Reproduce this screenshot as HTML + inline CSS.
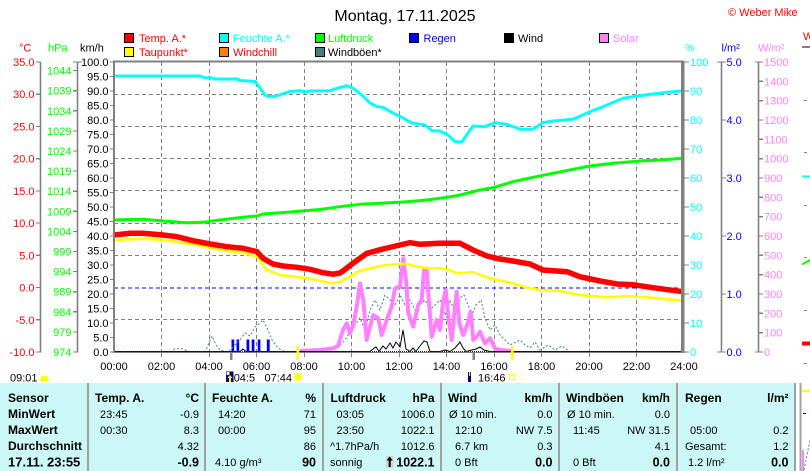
<!DOCTYPE html>
<html><head><meta charset="utf-8">
<style>
html,body{margin:0;padding:0;background:#fff;}
body{width:810px;height:471px;overflow:hidden;position:relative;}
svg{position:absolute;left:0;top:0;}
text{font-family:"Liberation Sans",sans-serif;}
</style></head>
<body>
<svg width="810" height="471" viewBox="0 0 810 471" xmlns="http://www.w3.org/2000/svg">
<rect x="0" y="0" width="810" height="471" fill="#fff"/>

<!-- Title -->
<text x="405" y="21" font-size="16" text-anchor="middle" fill="#000">Montag, 17.11.2025</text>
<text x="728" y="16" font-size="11" fill="#ff0000">© Weber Mike</text>

<!-- Legend -->
<g stroke="#000" stroke-width="1" shape-rendering="crispEdges">
<rect x="124.5" y="33.5" width="9" height="9" fill="#ff0000"/>
<rect x="219.5" y="33.5" width="9" height="9" fill="#00ffff"/>
<rect x="315.5" y="33.5" width="9" height="9" fill="#00ff00"/>
<rect x="409.5" y="33.5" width="9" height="9" fill="#0000ff"/>
<rect x="504.5" y="33.5" width="9" height="9" fill="#000000"/>
<rect x="599.5" y="33.5" width="9" height="9" fill="#ff80ff"/>
<rect x="124.5" y="47.5" width="9" height="9" fill="#ffff00"/>
<rect x="219.5" y="47.5" width="9" height="9" fill="#ff8000"/>
<rect x="315.5" y="47.5" width="9" height="9" fill="#408080"/>
</g>
<g font-size="11">
<text x="139" y="42" fill="#ff0000">Temp. A.*</text>
<text x="233" y="42" fill="#00ffff">Feuchte A.*</text>
<text x="328" y="42" fill="#00ff00">Luftdruck</text>
<text x="423.5" y="42" fill="#0000ff">Regen</text>
<text x="518" y="42" fill="#000">Wind</text>
<text x="613" y="42" fill="#ff80ff">Solar</text>
<text x="139" y="56" fill="#ff0000">Taupunkt*</text>
<text x="233" y="56" fill="#ff0000">Windchill</text>
<text x="328" y="56" fill="#000">Windböen*</text>
</g>

<!-- Axis titles -->
<g font-size="11">
<text x="19" y="51.5" fill="#ff0000">°C</text>
<text x="48" y="51.5" fill="#00ff00">hPa</text>
<text x="80" y="51.5" fill="#000">km/h</text>
<text x="685" y="51.5" fill="#00ffff">%</text>
<text x="721.5" y="51.5" fill="#0000ff">l/m²</text>
<text x="758" y="51.5" fill="#ff80ff">W/m²</text>
</g>

<!-- Left axes lines -->
<g stroke="#808080" stroke-width="1.6" fill="none">
<path d="M40.5,62 V352.5"/>
<path d="M77.5,62 V352.5"/>
<path d="M721.5,62 V352.5"/>
<path d="M758.5,62 V352.5"/>
</g>
<g stroke="#808080" stroke-width="1.2" fill="none" shape-rendering="crispEdges">
<!-- C ticks -->
<path d="M36,62h5M36,94.2h5M36,126.4h5M36,158.7h5M36,190.9h5M36,223.1h5M36,255.3h5M36,287.6h5M36,319.8h5M36,352h5"/>
<!-- hPa ticks -->
<path d="M73,62h9M73,70.6h5M73,90.7h5M73,110.8h5M73,130.9h5M73,151h5M73,171.1h5M73,191.2h5M73,211.3h5M73,231.4h5M73,251.5h5M73,271.6h5M73,291.7h5M73,311.8h5M73,331.9h5M73,352h5"/>
<!-- km/h ticks -->
<path d="M110,62h4M110,76.5h4M110,91h4M110,105.5h4M110,120h4M110,134.5h4M110,149h4M110,163.5h4M110,178h4M110,192.5h4M110,207h4M110,221.5h4M110,236h4M110,250.5h4M110,265h4M110,279.5h4M110,294h4M110,308.5h4M110,323h4M110,337.5h4M110,352h4"/>
<!-- % ticks -->
<path d="M684,62h5M684,91h5M684,120h5M684,149h5M684,178h5M684,207h5M684,236h5M684,265h5M684,294h5M684,323h5M684,352h5"/>
<!-- l/m2 ticks -->
<path d="M717,62h9M721,120h5M721,178h5M721,236h5M721,294h5M717,352h9"/>
<!-- W/m2 ticks -->
<path d="M755,62h8M759,81.3h4M759,100.7h4M759,120h4M759,139.3h4M759,158.7h4M759,178h4M759,197.3h4M759,216.7h4M759,236h4M759,255.3h4M759,274.7h4M759,294h4M759,313.3h4M759,332.7h4M755,352h8"/>
</g>

<!-- Left axis labels -->
<g font-size="11" fill="#ff0000" text-anchor="end">
<text x="34.5" y="66">35.0</text><text x="34.5" y="98.2">30.0</text><text x="34.5" y="130.4">25.0</text>
<text x="34.5" y="162.7">20.0</text><text x="34.5" y="194.9">15.0</text><text x="34.5" y="227.1">10.0</text>
<text x="34.5" y="259.3">5.0</text><text x="34.5" y="291.6">0.0</text><text x="34.5" y="323.8">-5.0</text>
<text x="34.5" y="356">-10.0</text>
</g>
<g font-size="11" fill="#00ff00" text-anchor="end">
<text x="71.5" y="74.6">1044</text><text x="71.5" y="94.7">1039</text><text x="71.5" y="114.8">1034</text>
<text x="71.5" y="134.9">1029</text><text x="71.5" y="155">1024</text><text x="71.5" y="175.1">1019</text>
<text x="71.5" y="195.2">1014</text><text x="71.5" y="215.3">1009</text><text x="71.5" y="235.4">1004</text>
<text x="71.5" y="255.5">999</text><text x="71.5" y="275.6">994</text><text x="71.5" y="295.7">989</text>
<text x="71.5" y="315.8">984</text><text x="71.5" y="335.9">979</text><text x="71.5" y="356">974</text>
</g>
<g font-size="11" fill="#000" text-anchor="end">
<text x="108.5" y="66">100.0</text><text x="108.5" y="80.5">95.0</text><text x="108.5" y="95">90.0</text>
<text x="108.5" y="109.5">85.0</text><text x="108.5" y="124">80.0</text><text x="108.5" y="138.5">75.0</text>
<text x="108.5" y="153">70.0</text><text x="108.5" y="167.5">65.0</text><text x="108.5" y="182">60.0</text>
<text x="108.5" y="196.5">55.0</text><text x="108.5" y="211">50.0</text><text x="108.5" y="225.5">45.0</text>
<text x="108.5" y="240">40.0</text><text x="108.5" y="254.5">35.0</text><text x="108.5" y="269">30.0</text>
<text x="108.5" y="283.5">25.0</text><text x="108.5" y="298">20.0</text><text x="108.5" y="312.5">15.0</text>
<text x="108.5" y="327">10.0</text><text x="108.5" y="341.5">5.0</text><text x="108.5" y="356">0.0</text>
</g>

<!-- Right axis labels -->
<g font-size="11" fill="#00ffff">
<text x="690" y="66">100</text><text x="690" y="95">90</text><text x="690" y="124">80</text>
<text x="690" y="153">70</text><text x="690" y="182">60</text><text x="690" y="211">50</text>
<text x="690" y="240">40</text><text x="690" y="269">30</text><text x="690" y="298">20</text>
<text x="690" y="327">10</text><text x="690" y="356">0</text>
</g>
<g font-size="11" fill="#0000ff">
<text x="726.5" y="66">5.0</text><text x="726.5" y="124">4.0</text><text x="726.5" y="182">3.0</text>
<text x="726.5" y="240">2.0</text><text x="726.5" y="298">1.0</text><text x="726.5" y="356">0.0</text>
</g>
<g font-size="11" fill="#ff80ff">
<text x="764" y="66">1500</text><text x="764" y="85.3">1400</text><text x="764" y="104.7">1300</text>
<text x="764" y="124">1200</text><text x="764" y="143.3">1100</text><text x="764" y="162.7">1000</text>
<text x="764" y="182">900</text><text x="764" y="201.3">800</text><text x="764" y="220.7">700</text>
<text x="764" y="240">600</text><text x="764" y="259.3">500</text><text x="764" y="278.7">400</text>
<text x="764" y="298">300</text><text x="764" y="317.3">200</text><text x="764" y="336.7">100</text>
<text x="764" y="356">0</text>
</g>

<!-- Grid -->
<g stroke="#808080" stroke-width="1" stroke-dasharray="4,3" fill="none" shape-rendering="crispEdges">
<path d="M114,94.5H682M114,126.5H682M114,158.5H682M114,190.5H682M114,223.5H682M114,255.5H682M114,319.5H682"/>
<path d="M161.5,62V352M209.5,62V352M256.5,62V352M304.5,62V352M351.5,62V352M399.5,62V352M446.5,62V352M494.5,62V352M541.5,62V352M589.5,62V352M636.5,62V352"/>
</g>
<path d="M114,288H682" stroke="#0000ff" stroke-width="1.2" stroke-dasharray="4,3" fill="none" shape-rendering="crispEdges"/>

<!-- Series -->
<!-- rain bars -->
<g fill="#0000ff">
<rect x="231.5" y="339.5" width="2.7" height="12.5"/>
<rect x="236.5" y="339.5" width="2.7" height="12.5"/>
<rect x="246.5" y="339.5" width="2.8" height="12.5"/>
<rect x="251.7" y="339.5" width="2.7" height="12.5"/>
<rect x="257.7" y="339.5" width="2.7" height="12.5"/>
<rect x="266.8" y="339.5" width="2.9" height="12.5"/>
</g>
<!-- windboen -->
<polyline fill="none" stroke="#408080" stroke-width="1" stroke-dasharray="2,2" points="114,352 170,352 175,349 180,348 185,350 190,352 205,352 208,345 212,336 216,345 220,350 228,352 235,345 240,340 245,333 250,336 255,327 260,323 263,320 268,330 272,340 278,348 285,352 330,352 340,345 345,340 350,332 355,325 360,318 365,330 370,310 375,300 380,310 385,295 390,300 395,305 400,295 405,305 410,300 415,310 420,305 425,300 430,310 440,300 445,315 450,300 455,312 460,298 464,295 468,305 472,315 476,305 481,300 485,318 490,330 495,325 500,335 505,340 510,345 520,340 525,345 530,348 535,342 540,350 548,345 555,350 562,346 570,352 683,352"/>
<!-- solar -->
<polyline fill="none" stroke="#ff80ff" stroke-width="4" stroke-linejoin="round" points="300,351 320,350 333,348.3 338,346 343,330 346.7,323.3 350,333.3 353.3,325 356.7,306.7 360,283.3 363.3,300 366.7,340 370,326.7 373.3,315 378.3,318.3 381.7,335 386.7,320 391.7,306.7 395,288.3 400,286.7 403.3,258.3 406,280 408.3,313.3 413.3,326.7 418.3,305 421.7,300 424,270 426.7,268.3 428.3,293.3 431.7,336.7 436.7,320 440,330 443.3,300 445.7,290 448.3,316.7 451.7,340 455,306.7 456.7,291.7 459.3,323.3 463.3,335 468.3,321.7 470.7,311.7 473.3,340 476.7,336.7 480,331.7 485,343.3 490,338.3 495,348.3 500,350 512,351"/>
<!-- wind -->
<polyline fill="none" stroke="#000" stroke-width="1" points="114,351.5 240,351.5 243,349 246,351.5 370,351.5 373,349 376,347 379,351.5 383,346 386,349 390,343 393,348 396,342 400,347 403,330 406,349 410,351.5 413,348 416,351.5 420,346 424,341 427,342 430,351.5 440,351.5 445,350 450,351.5 455,348 460,342 463,348 466,351.5 476,349 480,347 484,350 490,351.5 683,351.5"/>
<!-- rain zero dotted -->
<path d="M114,351.5H682" stroke="#0000ff" stroke-width="1" stroke-dasharray="1,1" fill="none"/>
<!-- humidity -->
<polyline fill="none" stroke="#00ffff" stroke-width="3" points="114,76 200,76 205,78 210,77.5 215,79 237,79 240,80.5 255,81.5 258,85 265,95 268,96.5 275,96.5 282,94 290,91.5 300,90.7 305,92 310,91 330,90.7 337,88.3 347,85.7 353,88.3 362,95 370,103 377,106.7 383,107.3 393,113 403,118 412,123 425,125 432,130.7 440,131 448,135 455,141.7 462,141.7 473,126 485,126.7 495,122.7 507,124.3 520,129.3 533,129.3 543,122.7 553,121 573,119.3 590,111.7 603,106.7 623,98.3 637,96 653,94 670,92 683,90.7"/>
<!-- pressure -->
<polyline fill="none" stroke="#00ff00" stroke-width="3" points="114,220 143,219.3 163,221 187,222.7 203,222.3 220,220 243,217.3 257,216 263,214 287,212.3 320,209.5 340,206.7 360,204.3 380,203.3 407,201.7 427,200 447,197.3 460,195 480,190 493,187.7 513,181.7 533,177.3 553,173.3 573,169.3 590,166 613,163.3 640,161 660,160 683,158.3"/>
<!-- dew point -->
<polyline fill="none" stroke="#ffff00" stroke-width="2.6" points="114,240 143,238.7 163,240 193,244.3 220,250 243,252.7 257,256.7 267,270 280,275 303,277.7 317,280 330,283.3 340,282 343,280 353,275 357,272 367,269.3 377,266.7 387,265 400,264 407,264 417,266.7 430,268.3 440,268.3 450,270 457,273.3 473,272.3 483,276 497,280 513,283.3 527,287.7 540,290 560,291 580,295 607,297.3 627,296 647,297.3 683,300.7"/>
<!-- windchill -->
<polyline fill="none" stroke="#ff8000" stroke-width="1.5" transform="translate(-1.5,-1.5)" points="114,235 130,233.3 143,233.3 163,235 177,236.7 193,240.7 210,244 227,246.7 243,248.3 257,251.7 263,258.3 273,264 283,266 297,267.3 310,269.3 323,272.7 333,274.2 340,273 343,271 353,263.3 367,253.3 383,249 400,245 410,242.7 420,244.3 440,243.3 460,243.3 473,250 487,256 500,259 513,261 530,264 543,270 567,271.7 580,276.7 600,281 617,284 633,284.7 653,287.7 683,291.7"/>
<!-- temperature -->
<polyline fill="none" stroke="#ff0000" stroke-width="5.5" points="114,235 130,233.3 143,233.3 163,235 177,236.7 193,240.7 210,244 227,246.7 243,248.3 257,251.7 263,258.3 273,264 283,266 297,267.3 310,269.3 323,272.7 333,274.2 340,273 343,271 353,263.3 367,253.3 383,249 400,245 410,242.7 420,244.3 440,243.3 460,243.3 473,250 487,256 500,259 513,261 530,264 543,270 567,271.7 580,276.7 600,281 617,284 633,284.7 653,287.7 683,291.7"/>

<!-- Plot borders -->
<g fill="#808080" shape-rendering="crispEdges">
<rect x="113" y="60.5" width="571" height="2.2"/>
<rect x="113" y="61" width="2.2" height="292"/>
<rect x="681" y="61" width="3.6" height="292"/>
<rect x="113" y="352" width="571" height="1"/>
</g>

<!-- X axis ticks -->
<g stroke="#808080" stroke-width="1" shape-rendering="crispEdges">
<path d="M161.5,352v5M209.5,352v5M256.5,352v5M304.5,352v5M351.5,352v5M399.5,352v5M446.5,352v5M494.5,352v5M541.5,352v5M589.5,352v5M636.5,352v5"/>
</g>
<rect x="230" y="352" width="2.5" height="8" fill="#808080"/>
<rect x="472.5" y="352" width="2.5" height="8" fill="#808080"/>
<rect x="296.5" y="346" width="2.5" height="14" fill="#ffff00"/>
<rect x="511" y="346" width="2.5" height="14" fill="#ffff00"/>

<!-- X labels -->
<g font-size="11" fill="#000" text-anchor="middle">
<text x="114" y="370">00:00</text><text x="161.5" y="370">02:00</text><text x="209" y="370">04:00</text>
<text x="256.5" y="370">06:00</text><text x="304" y="370">08:00</text><text x="351.5" y="370">10:00</text>
<text x="399" y="370">12:00</text><text x="446.5" y="370">14:00</text><text x="494" y="370">16:00</text>
<text x="541.5" y="370">18:00</text><text x="589" y="370">20:00</text><text x="636.5" y="370">22:00</text>
<text x="684" y="370">24:00</text>
</g>

<!-- sun/moon row -->
<text x="10" y="381.5" font-size="11" fill="#000">09:01</text>
<path d="M40,381.5 Q40,375.5 44.5,375.5 Q49,375.5 49,381.5 Z" fill="#ffff00"/>
<rect x="226" y="371.5" width="7.5" height="10.5" fill="#000080"/>
<circle cx="228" cy="373.5" r="1.6" fill="#ffffff"/>
<path d="M230,375 L232.5,378 L231,378 L231,382 L229,382 L229,378 L227.5,378 Z" fill="#ffff00"/>
<text x="233.7" y="381.5" font-size="11" fill="#000">04:5</text>
<text x="264.5" y="381.5" font-size="11" fill="#000">07:44</text>
<g stroke="#ffff00" stroke-width="1">
<path d="M298,371.5v11M292.5,377h11M294,373l8,8M302,373l-8,8"/>
</g>
<circle cx="298" cy="377" r="3.3" fill="#ffff00"/>
<rect x="468" y="372" width="3" height="10" fill="#000080"/>
<rect x="469" y="372" width="1.2" height="4" fill="#ffff00"/>
<text x="478" y="381.5" font-size="11" fill="#000">16:46</text>
<rect x="509.5" y="374.5" width="5" height="5" fill="none" stroke="#ffff00" stroke-width="1"/>

<!-- Table -->
<rect x="0" y="383" width="795" height="88" fill="#ccf7f7"/>
<g fill="#a0a0a0" shape-rendering="crispEdges">
<rect x="87" y="383" width="2" height="88"/>
<rect x="204" y="383" width="2" height="88"/>
<rect x="322" y="383" width="2" height="88"/>
<rect x="440" y="383" width="2" height="88"/>
<rect x="558" y="383" width="2" height="88"/>
<rect x="676" y="383" width="2" height="88"/>
<rect x="794" y="383" width="2" height="88"/>
<rect x="799.5" y="383" width="2" height="88"/>
</g>
<g font-size="12" font-weight="bold" fill="#000">
<text x="8" y="402">Sensor</text>
<text x="8" y="418">MinWert</text>
<text x="8" y="434">MaxWert</text>
<text x="8" y="450">Durchschnitt</text>
<text x="8" y="466.5" font-size="13">17.11. 23:55</text>
<text x="95" y="402">Temp. A.</text>
<text x="199" y="402" text-anchor="end">°C</text>
<text x="212" y="402">Feuchte A.</text>
<text x="316" y="402" text-anchor="end">%</text>
<text x="330.5" y="402">Luftdruck</text>
<text x="434.5" y="402" text-anchor="end">hPa</text>
<text x="448" y="402">Wind</text>
<text x="552.5" y="402" text-anchor="end">km/h</text>
<text x="566" y="402">Windböen</text>
<text x="670" y="402" text-anchor="end">km/h</text>
<text x="685" y="402">Regen</text>
<text x="788.5" y="402" text-anchor="end">l/m²</text>
</g>
<g font-size="11" fill="#000">
<text x="100" y="418">23:45</text>
<text x="199" y="418" text-anchor="end">-0.9</text>
<text x="100" y="434">00:30</text>
<text x="199" y="434" text-anchor="end">8.3</text>
<text x="199" y="450" text-anchor="end">4.32</text>

<text x="218" y="418">14:20</text>
<text x="316" y="418" text-anchor="end">71</text>
<text x="218" y="434">00:00</text>
<text x="316" y="434" text-anchor="end">95</text>
<text x="316" y="450" text-anchor="end">86</text>
<text x="215" y="466">4.10 g/m³</text>

<text x="336.5" y="418">03:05</text>
<text x="434.5" y="418" text-anchor="end">1006.0</text>
<text x="336.5" y="434">23:50</text>
<text x="434.5" y="434" text-anchor="end">1022.1</text>
<text x="330" y="450">^1.7hPa/h</text>
<text x="434.5" y="450" text-anchor="end">1012.6</text>
<text x="330" y="466">sonnig</text>

<text x="449" y="418">Ø 10 min.</text>
<text x="552.5" y="418" text-anchor="end">0.0</text>
<text x="455" y="434">12:10</text>
<text x="552.5" y="434" text-anchor="end">NW 7.5</text>
<text x="455" y="450">6.7 km</text>
<text x="552.5" y="450" text-anchor="end">0.3</text>
<text x="455" y="466">0 Bft</text>

<text x="567" y="418">Ø 10 min.</text>
<text x="670" y="418" text-anchor="end">0.0</text>
<text x="573" y="434">11:45</text>
<text x="670" y="434" text-anchor="end">NW 31.5</text>
<text x="670" y="450" text-anchor="end">4.1</text>
<text x="573" y="466">0 Bft</text>

<text x="690" y="434">05:00</text>
<text x="788.5" y="434" text-anchor="end">0.2</text>
<text x="685" y="450">Gesamt:</text>
<text x="788.5" y="450" text-anchor="end">1.2</text>
<text x="688" y="466">1.2 l/m²</text>
</g>
<rect x="386" y="456" width="7.5" height="12" fill="#d4d4d4"/>
<path d="M389.7,456.5 L392.8,460.5 L390.7,460.5 L390.7,467 L388.7,467 L388.7,460.5 L386.6,460.5 Z" fill="#000"/>
<g font-size="12.5" font-weight="bold" fill="#000" text-anchor="end">
<text x="199" y="466.5">-0.9</text>
<text x="316" y="466.5">90</text>
<text x="434.5" y="466.5">1022.1</text>
<text x="552.5" y="466.5">0.0</text>
<text x="670" y="466.5">0.0</text>
<text x="788.5" y="466.5">0.0</text>
</g>

<!-- Partial next chart at right edge -->
<text x="803" y="40" font-size="11" fill="#ff0000">W</text>
<rect x="802" y="46" width="8" height="2" fill="#808080"/>
<g fill="#808080">
<rect x="804" y="100" width="3" height="1"/>
<rect x="804" y="152" width="3" height="1"/>
<rect x="804" y="205" width="3" height="1"/>
<rect x="804" y="257" width="3" height="1"/>
<rect x="804" y="310" width="3" height="1"/>
<rect x="804" y="363" width="3" height="1"/>
</g>
<rect x="802" y="175.5" width="8" height="2" fill="#00ffff"/>
<path d="M802,264.5 L810,260" stroke="#00ff00" stroke-width="2" fill="none"/>
<rect x="802" y="341.5" width="8" height="4" fill="#ff0000"/>
<rect x="801.5" y="390" width="8.5" height="2" fill="#ffff00"/>
<rect x="803" y="413" width="3" height="1" fill="#0000ff"/>
<rect x="802" y="450" width="2" height="21" fill="#ff80ff"/>
<path d="M804,470 L810,440" stroke="#408080" stroke-width="1" stroke-dasharray="2,2" fill="none"/>
</svg>
</body></html>
